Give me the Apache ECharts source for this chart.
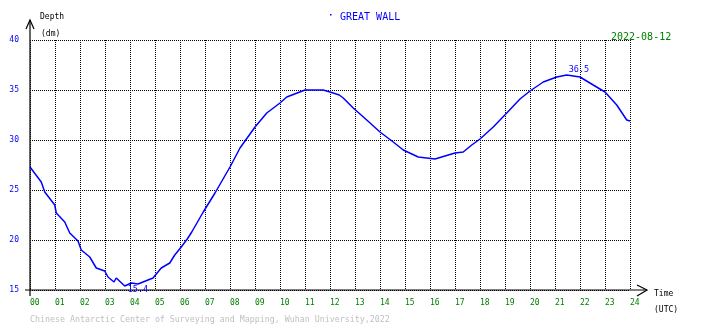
<!DOCTYPE html>
<html>
<head>
<meta charset="utf-8">
<script src="https://cdn.jsdelivr.net/npm/echarts@6/dist/echarts.min.js"></script>
<style>
  html, body { margin: 0; padding: 0; background: #ffffff; }
  #chart { width: 710px; height: 328px; }
</style>
</head>
<body>
<div id="chart"></div>
<script>
// Tide record, Great Wall station, 2022-08-12 (hour UTC, depth in dm)
const hours = [
  0.0, 0.45, 0.59, 0.99, 1.05, 1.39, 1.59, 1.92, 2.05, 2.39, 2.65, 2.99, 3.12, 3.36, 3.45,
  3.79, 4.05, 4.32, 4.52, 4.92, 5.25, 5.59, 5.79, 6.05, 6.29, 6.47, 6.93, 7.4, 8.0, 8.4,
  9.0, 9.47, 10.0, 10.27, 11.0, 11.73, 12.0, 12.37, 12.53, 12.93, 13.47, 14.0, 14.53, 14.93,
  15.53, 16.2, 16.6, 17.0, 17.33, 17.67, 18.0, 18.53, 19.07, 19.6, 20.0, 20.53, 21.07, 21.47,
  22.0, 22.53, 23.0, 23.47, 23.87, 24.0
];
const depths = [
  27.3, 25.8, 24.8, 23.5, 22.7, 21.8, 20.7, 19.9, 19.0, 18.3, 17.2, 16.9, 16.3, 15.8, 16.2,
  15.4, 15.7, 15.6, 15.8, 16.2, 17.2, 17.7, 18.5, 19.3, 20.1, 20.8, 22.8, 24.7, 27.3, 29.2,
  31.3, 32.7, 33.7, 34.3, 35.0, 35.0, 34.8, 34.5, 34.2, 33.2, 32.0, 30.8, 29.8, 29.0,
  28.3, 28.1, 28.4, 28.7, 28.8, 29.5, 30.1, 31.3, 32.7, 34.1, 34.9, 35.8, 36.3, 36.5,
  36.3, 35.5, 34.8, 33.5, 32.0, 31.9
];
const yTicks = [15, 20, 25, 30, 35, 40];
const xTickLabels = ['00','01','02','03','04','05','06','07','08','09','10','11','12',
                     '13','14','15','16','17','18','19','20','21','22','23','24'];
const stationName = 'GREAT WALL';
const dateLabel = '2022-08-12';
const creditLine = 'Chinese Antarctic Center of Surveying and Mapping, Wuhan University,2022';

const GRID = { left: 30, top: 40, width: 600, height: 250 };
const MONO = '"DejaVu Sans Mono", "Liberation Mono", monospace';
const BLUE = '#0000ff';
const GREEN = '#008000';

const chart = echarts.init(document.getElementById('chart'), null, { renderer: 'canvas' });

const gx0 = GRID.left, gy0 = GRID.top, gx1 = GRID.left + GRID.width, gy1 = GRID.top + GRID.height;
const axisStroke = { stroke: '#000', lineWidth: 1.2, fill: null };

function txt(text, x, y, size, color, align) {
  return {
    type: 'text', silent: true,
    style: {
      text: text, x: x, y: y, fill: color,
      font: size + 'px ' + MONO,
      textAlign: align || 'left', align: align || 'left',
      textVerticalAlign: 'middle', verticalAlign: 'middle'
    }
  };
}

function extremeLabel(offset) {
  return {
    show: true, position: 'inside', align: 'left', verticalAlign: 'middle',
    offset: offset, color: BLUE, fontFamily: MONO, fontSize: 8.5,
    formatter: p => Number(p.value).toFixed(1)
  };
}

const option = {
  backgroundColor: '#ffffff',
  animation: false,
  grid: { left: GRID.left, top: GRID.top, width: GRID.width, height: GRID.height },
  xAxis: {
    type: 'value', min: 0, max: 24, interval: 1,
    axisLine: { show: false },
    axisTick: { show: false },
    splitLine: { show: true, lineStyle: { color: '#000', width: 1, type: [1, 1] } },
    axisLabel: {
      color: GREEN, fontFamily: MONO, fontSize: 8, margin: 9, align: 'left',
      showMinLabel: true, showMaxLabel: true,
      formatter: v => xTickLabels[Math.round(v)]
    }
  },
  yAxis: {
    type: 'value', min: yTicks[0], max: yTicks[yTicks.length - 1], interval: 5,
    axisLine: { show: false },
    axisTick: { show: false },
    splitLine: { show: true, lineStyle: { color: '#000', width: 1, type: [1, 1] } },
    axisLabel: { color: BLUE, fontFamily: MONO, fontSize: 8, margin: 11 }
  },
  series: [{
    type: 'line',
    data: hours.map((h, i) => [h, depths[i]]),
    showSymbol: false,
    smooth: false,
    lineStyle: { color: BLUE, width: 1.5 },
    itemStyle: { color: BLUE },
    markPoint: {
      symbol: 'circle', symbolSize: 2,
      itemStyle: { color: 'rgba(0,0,0,0)' },
      data: [
        { type: 'min', valueDim: 'y', label: extremeLabel([3, 4]) },
        { type: 'max', valueDim: 'y', label: extremeLabel([2, -5]) }
      ]
    }
  }],
  graphic: [
    // vertical axis with open arrow head
    { type: 'polyline', silent: true, shape: { points: [[gx0, gy1 + 6], [gx0, 20]] }, style: axisStroke },
    { type: 'polyline', silent: true, shape: { points: [[gx0 - 4, 29], [gx0, 20], [gx0 + 4, 29]] }, style: axisStroke },
    // horizontal axis with open arrow head
    { type: 'polyline', silent: true, shape: { points: [[gx0 - 5, gy1], [gx1 + 17, gy1]] }, style: axisStroke },
    { type: 'polyline', silent: true, shape: { points: [[gx1 + 7, gy1 - 5], [gx1 + 17, gy1], [gx1 + 7, gy1 + 6]] }, style: axisStroke },
    txt('Depth', 40, 16.5, 8, '#000'),
    txt('(dm)', 41, 33.5, 8, '#000'),
    txt('Time', 654, 294, 8, '#000'),
    txt('(UTC)', 654, 309.5, 8, '#000'),
    { type: 'rect', silent: true, shape: { x: 330, y: 14, width: 1.5, height: 1.5 }, style: { fill: BLUE } },
    txt(stationName, 340, 17, 10, BLUE),
    txt(dateLabel, 611, 37, 10, GREEN),
    txt(creditLine, 30, 320, 8.3, '#c0c0c0')
  ]
};

chart.setOption(option);
</script>
</body>
</html>
